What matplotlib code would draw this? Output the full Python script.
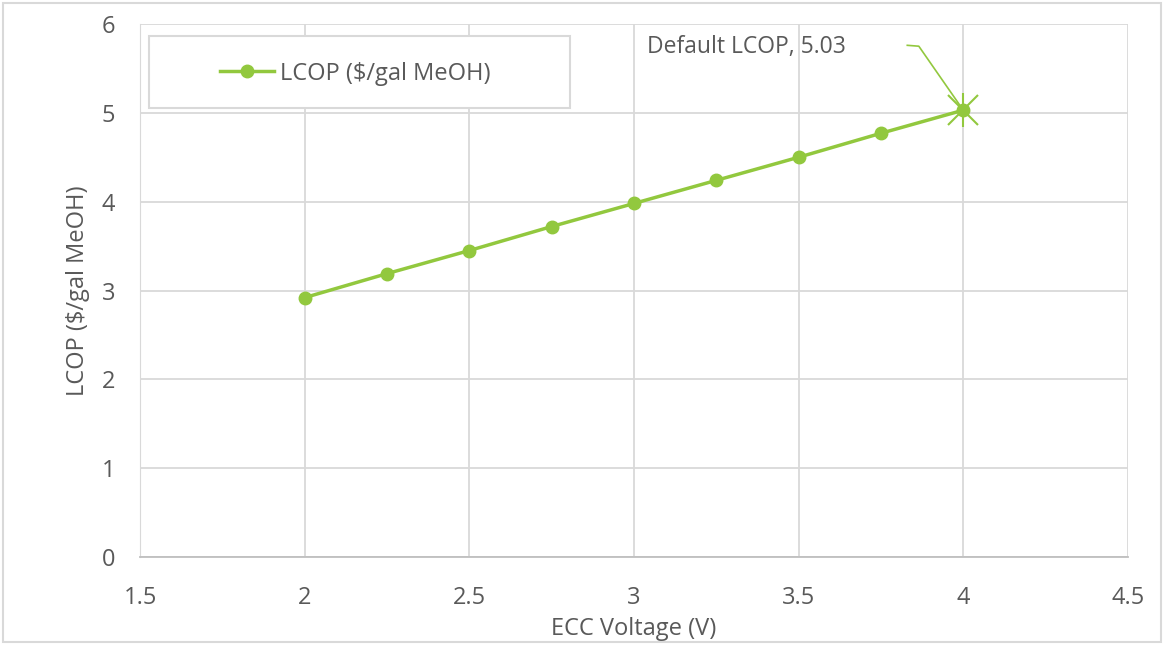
import matplotlib.pyplot as plt
from matplotlib.patches import Rectangle

plt.rcParams['font.family'] = ['Open Sans', 'DejaVu Sans']

# data
voltage = [2.0, 2.25, 2.5, 2.75, 3.0, 3.25, 3.5, 3.75, 4.0]
lcop = [2.92, 3.19, 3.45, 3.72, 3.98, 4.24, 4.50, 4.77, 5.03]
default_v = 4.0
default_lcop = 5.03

green = '#92c83e'
txt = '#595959'
grid_c = '#d9d9d9'

fig = plt.figure(figsize=(11.64, 6.45), dpi=100)
ax = fig.add_axes([0.1203, 0.1364, 0.8487, 0.8264])

ax.plot(voltage, lcop, color=green, lw=2.5, marker='o', ms=9,
        label='LCOP ($/gal MeOH)', zorder=3)

# highlighted default point
ax.plot([default_v], [default_lcop], marker='x', ms=22, mew=1.5, color=green, zorder=4)
ax.plot([default_v], [default_lcop], marker='|', ms=24, mew=1.5, color=green, zorder=4)

ax.annotate(f'Default LCOP, {default_lcop}', xy=(default_v, default_lcop),
            xytext=(3.04, 5.74), fontsize=16.5, color=txt, va='center',
            zorder=5)
# leader line
ax.plot([3.83, 3.865, default_v], [5.76, 5.75, default_lcop], color=green, lw=1.2, zorder=3)

ax.set_xlim(1.5, 4.5)
ax.set_ylim(0, 6)
ax.set_xticks([1.5, 2, 2.5, 3, 3.5, 4, 4.5])
ax.set_xticklabels(['1.5', '2', '2.5', '3', '3.5', '4', '4.5'])
ax.set_yticks(range(0, 7))
ax.grid(True, color=grid_c, lw=1.3)
ax.set_axisbelow(True)
ax.tick_params(axis='y', length=0, labelsize=17, labelcolor=txt, pad=18)
ax.tick_params(axis='x', length=0, labelsize=17, labelcolor=txt, pad=21)

for s in ['top', 'right']:
    ax.spines[s].set_visible(False)
ax.spines['left'].set_color(grid_c)
ax.spines['bottom'].set_color('#bfbfbf')
ax.spines['bottom'].set_linewidth(1.3)

ax.set_xlabel('ECC Voltage (V)', fontsize=17, color=txt, labelpad=5)
ax.set_ylabel('LCOP ($/gal MeOH)', fontsize=17, color=txt, labelpad=8)

# legend frame drawn separately so it can be wider than the entry
ax.add_patch(Rectangle((0.009, 0.843), 0.4265, 0.135, transform=ax.transAxes,
                       fill=True, facecolor='white', edgecolor=grid_c, lw=1.5, zorder=5))
leg = ax.legend(loc='center left', bbox_to_anchor=(0.081, 0.907), fontsize=17,
                frameon=False, handlelength=2.3, handletextpad=0.25,
                borderpad=0, borderaxespad=0)
leg.set_zorder(6)
for t in leg.get_texts():
    t.set_color(txt)

fig.patches.append(Rectangle((0.003, 0.005), 0.994, 0.99, transform=fig.transFigure,
                             fill=False, edgecolor='#d9d9d9', lw=1.5))

fig.savefig('out.png', dpi=100)
